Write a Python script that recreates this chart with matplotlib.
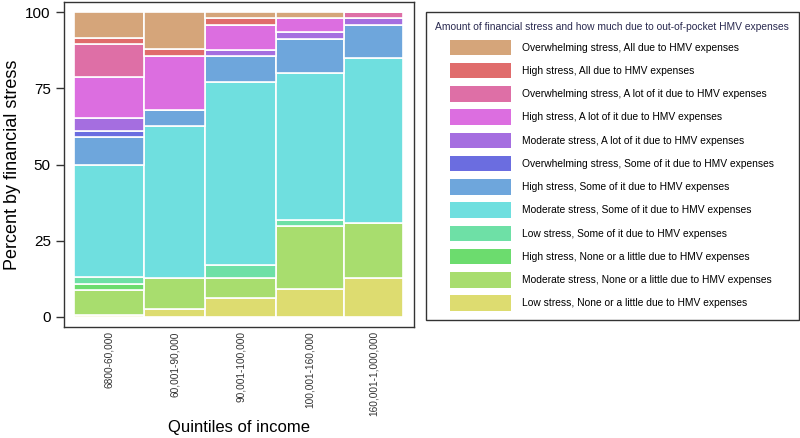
import matplotlib
matplotlib.use("Agg")
import matplotlib.pyplot as plt
from matplotlib.patches import Patch

plt.rcParams['font.family'] = ['Liberation Sans', 'DejaVu Sans']

# income quintiles and their share of the sample (bar widths, %)
quintiles = ['6800-60,000', '60,001-90,000', '90,001-100,000',
             '100,001-160,000', '160,001-1,000,000']
shares = [21.3, 18.5, 21.6, 20.6, 18.0]

# percent in each category, per quintile (bottom of the stack first)
low_none = [0.6, 2.5, 6.2, 9.0, 12.8]
mod_none = [8.1, 10.1, 6.6, 20.7, 18.0]
high_none = [2.1, 0, 0, 0, 0]
low_some = [2.1, 0, 4.2, 2.0, 0]
mod_some = [37.1, 50.2, 60.0, 48.3, 54.2]
high_some = [8.9, 5.0, 8.5, 11.4, 10.7]
ow_some = [2.2, 0, 0, 0, 0]
mod_lot = [4.1, 0, 2.2, 2.0, 2.3]
high_lot = [13.4, 17.7, 8.2, 4.8, 0]
ow_lot = [10.9, 0, 0, 0, 2.0]
high_all = [2.1, 2.5, 2.3, 0, 0]
ow_all = [8.4, 12.0, 1.8, 1.8, 0]

series = [low_none, mod_none, high_none, low_some, mod_some, high_some,
          ow_some, mod_lot, high_lot, ow_lot, high_all, ow_all]
labels = ['Low stress, None or a little due to HMV expenses',
          'Moderate stress, None or a little due to HMV expenses',
          'High stress, None or a little due to HMV expenses',
          'Low stress, Some of it due to HMV expenses',
          'Moderate stress, Some of it due to HMV expenses',
          'High stress, Some of it due to HMV expenses',
          'Overwhelming stress, Some of it due to HMV expenses',
          'Moderate stress, A lot of it due to HMV expenses',
          'High stress, A lot of it due to HMV expenses',
          'Overwhelming stress, A lot of it due to HMV expenses',
          'High stress, All due to HMV expenses',
          'Overwhelming stress, All due to HMV expenses']
colors = ['#dddc70', '#a8dd6e', '#6cdc6e', '#6ee0a6', '#6fdfdf', '#6ea6dc',
          '#6b6de0', '#a56ee0', '#dc6ee0', '#de6fa6', '#e06c6c', '#d5a57a']

fig = plt.figure(figsize=(8, 4.38), dpi=100)
ax = fig.add_axes([0.08, 0.2534, 0.4375, 0.742])

# mosaic: bar width = share of the quintile, stacked segments = percents
lefts = [sum(shares[:i]) for i in range(len(shares))]
bottoms = [0] * len(shares)
for vals, col in zip(series, colors):
    ax.bar(lefts, vals, width=shares, bottom=bottoms, align='edge',
           color=col, edgecolor='white', linewidth=1.2)
    bottoms = [b + v for b, v in zip(bottoms, vals)]

ax.set_xlim(-3.0, 103.2)
ax.set_ylim(-3.4, 103.4)
centers = [l + w / 2 for l, w in zip(lefts, shares)]
ax.set_xticks(centers)
ax.set_xticklabels(quintiles, rotation=90, fontsize=7.3, color='#333333')
ax.tick_params(axis='x', length=0, pad=3)
ax.set_yticks([0, 25, 50, 75, 100])
ax.tick_params(axis='y', labelsize=11, length=6, width=1, color='#333333')
ax.set_xlabel('Quintiles of income', fontsize=12, labelpad=3)
ax.set_ylabel('Percent by financial stress', fontsize=13, labelpad=3)
for s in ax.spines.values():
    s.set_color('#333333')
    s.set_linewidth(1)

handles = [Patch(facecolor=c, edgecolor='none') for c in colors[::-1]]
leg = fig.legend(handles, labels[::-1], loc='upper left',
                 bbox_to_anchor=(0.532, 0.972), borderaxespad=0, fontsize=7.4,
                 title='Amount of financial stress and how much due to out-of-pocket HMV expenses',
                 title_fontsize=7.4, handlelength=5.9, handleheight=1.95,
                 labelspacing=0.75, handletextpad=1.05, borderpad=0.93,
                 fancybox=False, edgecolor='#333333', framealpha=1)
leg.get_title().set_color('#2a2a50')
leg.get_frame().set_linewidth(1)

plt.savefig('out.png', dpi=100)
